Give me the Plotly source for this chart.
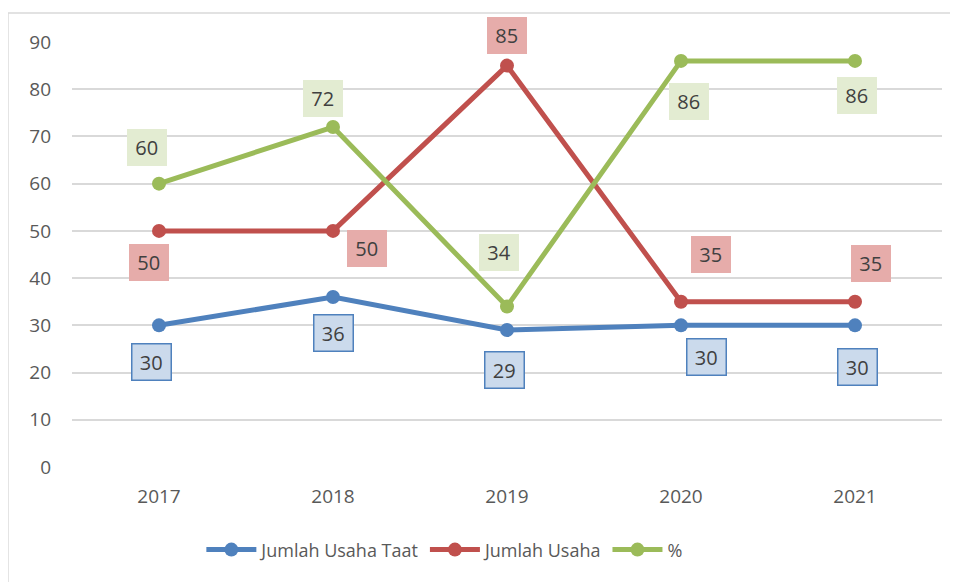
import plotly.graph_objects as go

years = ["2017", "2018", "2019", "2020", "2021"]
jumlah_usaha_taat = [30, 36, 29, 30, 30]
jumlah_usaha = [50, 50, 85, 35, 35]
persen = [60, 72, 34, 86, 86]
y_ticks = [0, 10, 20, 30, 40, 50, 60, 70, 80, 90]

BLUE = "#4F81BD"
RED = "#C0504D"
GREEN = "#9BBB59"
FONT = "Open Sans, Liberation Sans, sans-serif"

fig = go.Figure()
for name, vals, col in [("Jumlah Usaha Taat", jumlah_usaha_taat, BLUE),
                        ("Jumlah Usaha", jumlah_usaha, RED),
                        ("%", persen, GREEN)]:
    fig.add_trace(go.Scatter(x=years, y=vals, name=name, mode="lines+markers",
                             line=dict(color=col, width=5),
                             marker=dict(color=col, size=14),
                             cliponaxis=False))

# label offsets (pixels) per point
blue_off = [(-8, -37), (0, -36), (-3, -40), (25, -32), (2, -42)]
red_off = [(-10, -32), (34, -18), (0, 30), (30, 47), (16, 38)]
green_off = [(-12, 36), (-10, 29), (-8, 54), (8, -41), (2, -35)]

annots = []
def add_labels(vals, offs, bg, border, bw):
    for i, (v, (dx, dy)) in enumerate(zip(vals, offs)):
        annots.append(dict(x=i, y=v, xref="x", yref="y",
                           text="\u2009" + str(v) + "\u2009", showarrow=False,
                           xshift=dx, yshift=dy,
                           font=dict(family=FONT, size=20, color="#404040"),
                           bgcolor=bg, bordercolor=border, borderwidth=bw,
                           borderpad=4))

add_labels(jumlah_usaha_taat, blue_off, "#CBDAEC", BLUE, 1.5)
add_labels(jumlah_usaha, red_off, "#E6ACAA", "#E6ACAA", 1)
add_labels(persen, green_off, "#E3ECD2", "#E3ECD2", 1)

fig.update_layout(
    width=950, height=574,
    margin=dict(l=64, r=16, t=34, b=115),
    paper_bgcolor="white", plot_bgcolor="white",
    font=dict(family=FONT, size=18, color="#595959"),
    xaxis=dict(type="category", range=[-0.5, 4.5], showgrid=False, showline=False,
               ticks="", ticklabelstandoff=16, tickfont=dict(size=19, color="#595959")),
    yaxis=dict(range=[0, 90], tickvals=y_ticks, showgrid=True, gridcolor="#D9D9D9",
               gridwidth=1.5, zeroline=False, ticks="", ticklabelstandoff=20,
               tickfont=dict(size=19, color="#595959")),
    legend=dict(orientation="h", x=0.428, xanchor="center", y=-0.195, yanchor="middle",
                font=dict(size=18, color="#595959"), itemwidth=50, tracegroupgap=0),
    annotations=annots,
    shapes=[
        dict(type="line", xref="paper", yref="paper", x0=-0.0736, x1=1.1, y0=1.068, y1=1.068,
             line=dict(color="#D9D9D9", width=1.5)),
        dict(type="line", xref="paper", yref="paper", x0=-0.0736, x1=-0.0736, y0=1.068, y1=-0.4,
             line=dict(color="#D9D9D9", width=1.5)),
    ],
)

fig.write_html("out.html")
